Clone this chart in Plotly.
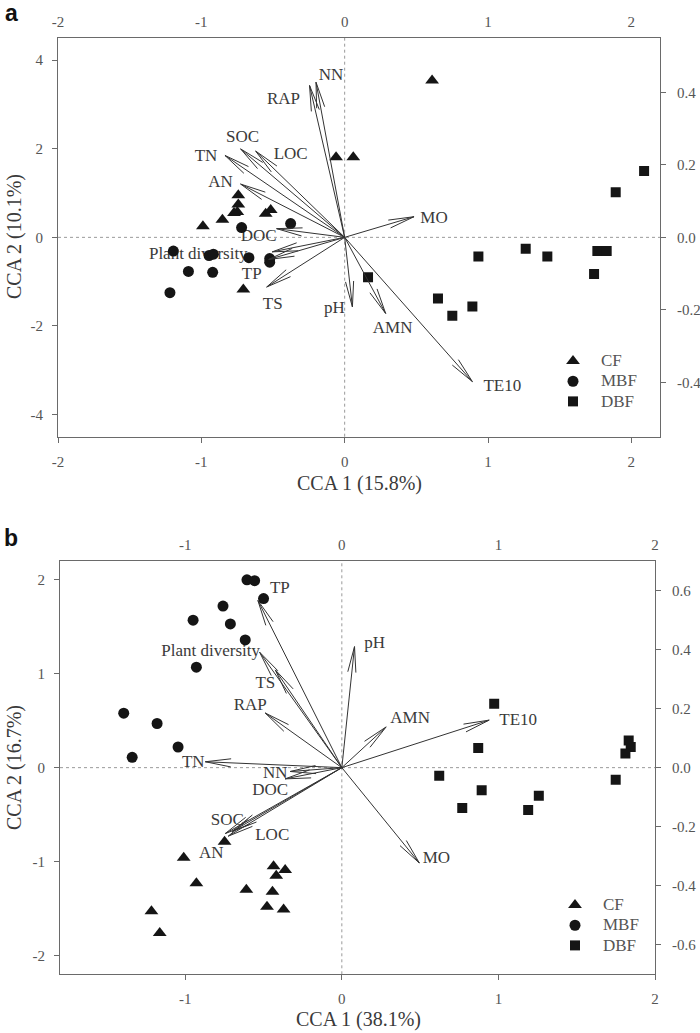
import math
import plotly.graph_objects as go

# ---------------- data ----------------
groups = ["CF", "MBF", "DBF"]

# Panel a sample scores (CCA1, CCA2)
a_cf_x = [-0.06, 0.06, 0.61, -0.742, -0.742, -0.749, -0.772, -0.551, -0.516, -0.853, -0.989, -0.707]
a_cf_y = [1.81, 1.81, 3.54, 0.95, 0.74, 0.57, 0.55, 0.53, 0.62, 0.40, 0.25, -1.18]
a_mbf_x = [-0.377, -0.719, -1.195, -0.946, -0.916, -0.668, -0.523, -0.523, -1.09, -0.921, -1.219]
a_mbf_y = [0.31, 0.22, -0.31, -0.41, -0.38, -0.46, -0.48, -0.56, -0.77, -0.79, -1.25]
a_dbf_x = [2.089, 1.891, 1.263, 0.933, 1.414, 1.763, 1.828, 1.74, 0.163, 0.651, 0.751, 0.891]
a_dbf_y = [1.50, 1.02, -0.26, -0.43, -0.43, -0.31, -0.31, -0.83, -0.90, -1.38, -1.77, -1.56]

# Panel a environmental vectors (biplot scores, top / right axes)
a_env = ["NN", "RAP", "SOC", "TN", "LOC", "AN", "DOC", "Plant diversity", "TP", "TS", "pH", "AMN", "TE10", "MO"]
a_env_x = [-0.20, -0.245, -0.726, -0.835, -0.621, -0.726, -0.475, -0.505, -0.53, -0.544, 0.054, 0.286, 0.891, 0.484]
a_env_y = [0.428, 0.419, 0.244, 0.226, 0.238, 0.147, 0.024, -0.040, -0.061, -0.137, -0.192, -0.210, -0.398, 0.057]

# Panel b sample scores
b_cf_x = [-0.749, -1.01, -0.929, -1.216, -1.163, -0.61, -0.436, -0.362, -0.419, -0.443, -0.478, -0.372]
b_cf_y = [-0.79, -0.96, -1.23, -1.53, -1.76, -1.30, -1.05, -1.09, -1.15, -1.32, -1.48, -1.51]
b_mbf_x = [-0.606, -0.557, -0.50, -0.759, -0.95, -0.712, -0.617, -0.929, -1.393, -1.18, -1.046, -1.339]
b_mbf_y = [2.00, 1.99, 1.80, 1.72, 1.57, 1.53, 1.36, 1.07, 0.58, 0.47, 0.22, 0.11]
b_dbf_x = [0.973, 0.871, 1.832, 1.845, 1.811, 0.622, 0.893, 0.769, 1.258, 1.19, 1.749]
b_dbf_y = [0.68, 0.21, 0.29, 0.22, 0.15, -0.085, -0.24, -0.43, -0.30, -0.45, -0.13]

# Panel b environmental vectors
b_env = ["TP", "Plant diversity", "TS", "RAP", "TN", "NN", "DOC", "SOC", "AN", "LOC", "pH", "AMN", "TE10", "MO"]
b_env_x = [-0.536, -0.525, -0.425, -0.489, -0.872, -0.33, -0.362, -0.744, -0.725, -0.70, 0.081, 0.283, 0.941, 0.495]
b_env_y = [0.566, 0.391, 0.331, 0.185, 0.020, -0.013, -0.038, -0.223, -0.232, -0.216, 0.410, 0.138, 0.161, -0.323]

# Tick labels
a_xticks = [-2, -1, 0, 1, 2]
a_yticks = [-4, -2, 0, 2, 4]
a_y2ticks = [-0.4, -0.2, 0.0, 0.2, 0.4]
b_xticks = [-1, 0, 1, 2]
b_yticks = [-2, -1, 0, 1, 2]
b_y2ticks = [-0.6, -0.4, -0.2, 0.0, 0.2, 0.4, 0.6]

# ---------------- layout geometry (pixels) ----------------
W, H = 700, 1033
GEOM = {
    "a": dict(px=(58, 660), py=(38, 436.7), xr=(-2.0, 2.2), yr=(-4.5, 4.5), y2r=(-0.55, 0.55)),
    "b": dict(px=(60, 655), py=(561, 974.3), xr=(-1.8, 2.0), yr=(-2.2, 2.2), y2r=(-0.7, 0.7)),
}
# label offsets from the arrow tip in pixels (dx right, dy down)
a_lab_off = [(15, -6), (-26, 14), (2, -11), (-19, 1), (35, 4), (-20, -1), (-18, 8), (-74, 3),
             (-17, 15), (6, 18), (-18, 2), (7, 15), (30, 5), (20, 2)]
b_lab_off = [(22, -12), (-49, 0), (-10, 14), (-15, -7), (-12, 1), (-15, 2), (-15, 12), (2, -13),
             (-17, 18), (40, 4), (20, -3), (24, -8), (29, 1), (17, -4)]

SERIF = "Liberation Serif, Times New Roman, serif"
TICK_COL = "#555555"
TXT_COL = "#3a3a3a"
LINE_COL = "#6a6a6a"


def ppu(g):
    gx = (g["px"][1] - g["px"][0]) / (g["xr"][1] - g["xr"][0])
    gy2 = (g["py"][1] - g["py"][0]) / (g["y2r"][1] - g["y2r"][0])
    return gx, gy2


def arrow_path(g, xs, ys, head=26, ang=9):
    sx, sy = ppu(g)
    X, Y = [], []
    for x, y in zip(xs, ys):
        X += [0, x, None]
        Y += [0, y, None]
        vx, vy = x * sx, y * sy
        L = math.hypot(vx, vy)
        ux, uy = vx / L, vy / L
        hx, hy = [], []
        for s in (1, -1):
            a = math.radians(ang) * s
            rx = ux * math.cos(a) - uy * math.sin(a)
            ry = ux * math.sin(a) + uy * math.cos(a)
            hx.append(x - head * rx / sx)
            hy.append(y - head * ry / sy)
        X += [hx[0], x, hx[1], None]
        Y += [hy[0], y, hy[1], None]
    return X, Y


def label_pos(g, xs, ys, offs):
    sx, sy = ppu(g)
    k = g["yr"][1] / g["y2r"][1]
    LX, LY = [], []
    for x, y, (dx, dy) in zip(xs, ys, offs):
        LX.append(x + dx / sx)
        LY.append((y - dy / sy) * k)
    return LX, LY


fig = go.Figure()

panels = [
    ("a", "x", "y", "x2", "y2", "legend",
     [(a_cf_x, a_cf_y), (a_mbf_x, a_mbf_y), (a_dbf_x, a_dbf_y)], a_env, a_env_x, a_env_y, a_lab_off),
    ("b", "x3", "y3", "x4", "y4", "legend2",
     [(b_cf_x, b_cf_y), (b_mbf_x, b_mbf_y), (b_dbf_x, b_dbf_y)], b_env, b_env_x, b_env_y, b_lab_off),
]
symbols = ["triangle-up", "circle", "square"]
msizes = [12, 11, 10]

for key, xa, ya, xa2, ya2, leg, pts, env, ex, ey, offs in panels:
    g = GEOM[key]
    lx, ly = label_pos(g, ex, ey, offs)
    fig.add_trace(go.Scatter(x=lx, y=ly, text=env, mode="text", xaxis=xa, yaxis=ya,
                             textfont=dict(family=SERIF, size=17, color=TXT_COL),
                             showlegend=False, hoverinfo="skip"))
    for (px_, py_), nm, sym, ms in zip(pts, groups, symbols, msizes):
        fig.add_trace(go.Scatter(x=px_, y=py_, mode="markers",
                                 name=f"<span style='font-size:17px'>{nm}</span>",
                                 xaxis=xa, yaxis=ya,
                                 marker=dict(symbol=sym, size=ms, color="#151515"),
                                 legend=leg))
    axx, axy = arrow_path(g, ex, ey)
    fig.add_trace(go.Scatter(x=axx, y=axy, mode="lines", xaxis=xa2, yaxis=ya2,
                             line=dict(color="#333333", width=1), showlegend=False,
                             hoverinfo="skip"))


def dom_x(g):
    return [g["px"][0] / W, g["px"][1] / W]


def dom_y(g):
    return [1 - g["py"][1] / H, 1 - g["py"][0] / H]


def fmt(v, dec):
    s = f"{v:.{dec}f}" if dec else f"{v:g}"
    return s.replace("\u2212", "-")


base_ax = dict(showgrid=False, zeroline=False, showline=True, linecolor=LINE_COL, linewidth=1,
               tickfont=dict(family=SERIF, size=15, color=TICK_COL), tickcolor=LINE_COL,
               ticklen=5, tickwidth=1, fixedrange=True, automargin=False)

layout_axes = {}
for key, xn, yn, x2n, y2n, xt, yt, y2t in [
    ("a", "xaxis", "yaxis", "xaxis2", "yaxis2", a_xticks, a_yticks, a_y2ticks),
    ("b", "xaxis3", "yaxis3", "xaxis4", "yaxis4", b_xticks, b_yticks, b_y2ticks),
]:
    g = GEOM[key]
    yid = yn.replace("axis", "")
    xid = xn.replace("axis", "")
    layout_axes[xn] = dict(base_ax, domain=dom_x(g), range=list(g["xr"]), anchor=yid, side="bottom",
                           ticks="outside", tickvals=xt, ticktext=[fmt(v, 0) for v in xt],
                           ticklabelstandoff=6)
    layout_axes[x2n] = dict(base_ax, range=list(g["xr"]), anchor=yid, side="top", overlaying=xid,
                            ticks="", tickvals=xt, ticktext=[fmt(v, 0) for v in xt],
                            ticklabelstandoff=4)
    layout_axes[yn] = dict(base_ax, domain=dom_y(g), range=list(g["yr"]), anchor=xid, side="left",
                           ticks="outside", tickvals=yt, ticktext=[fmt(v, 0) for v in yt],
                           ticklabelstandoff=6)
    layout_axes[y2n] = dict(base_ax, range=list(g["y2r"]), anchor=xid, side="right", overlaying=yid,
                            ticks="outside", tickvals=y2t, ticktext=[fmt(v, 1) for v in y2t],
                            ticklabelstandoff=8)

shapes = []
for xid, yid in [("x", "y"), ("x3", "y3")]:
    shapes.append(dict(type="line", xref=xid, yref=f"{yid} domain", x0=0, x1=0, y0=0, y1=1,
                       line=dict(color="#9a9a9a", width=1, dash="dot"), layer="below"))
    shapes.append(dict(type="line", xref=f"{xid} domain", yref=yid, x0=0, x1=1, y0=0, y1=0,
                       line=dict(color="#9a9a9a", width=1, dash="dot"), layer="below"))

ann = []
for letter, py in [("a", 13), ("b", 538)]:
    ann.append(dict(text=f"<b>{letter}</b>", x=11 / W, y=1 - py / H, xref="paper", yref="paper",
                    showarrow=False, xanchor="center", yanchor="middle", borderpad=0,
                    font=dict(family="Liberation Sans, Arial, sans-serif", size=23, color="#111")))
for txt, cx, cy, rot in [("CCA 1 (15.8%)", 359, 484, 0), ("CCA 2 (10.1%)", 14, 237, -90),
                         ("CCA 1 (38.1%)", 358, 1019, 0), ("CCA 2 (16.7%)", 14, 768, -90)]:
    ann.append(dict(text=txt, x=cx / W, y=1 - cy / H, xref="paper", yref="paper", showarrow=False,
                    xanchor="center", yanchor="middle", textangle=rot,
                    font=dict(family=SERIF, size=20, color=TXT_COL)))

leg_common = dict(bgcolor="rgba(0,0,0,0)", borderwidth=0, font=dict(family=SERIF, size=13.2, color=TICK_COL),
                  itemwidth=46, xanchor="left", yanchor="top", tracegroupgap=0, itemclick=False)

fig.update_layout(
    width=W, height=H, margin=dict(l=0, r=0, t=0, b=0, pad=0, autoexpand=False),
    paper_bgcolor="white", plot_bgcolor="white",
    annotations=ann, shapes=shapes,
    legend=dict(leg_common, x=545 / W, y=1 - 346 / H),
    legend2=dict(leg_common, x=547 / W, y=1 - 890 / H),
    **layout_axes,
)

fig.write_html("out.html", config={"displayModeBar": False},
               post_script="document.body.style.margin='0';document.body.style.overflow='hidden';")
